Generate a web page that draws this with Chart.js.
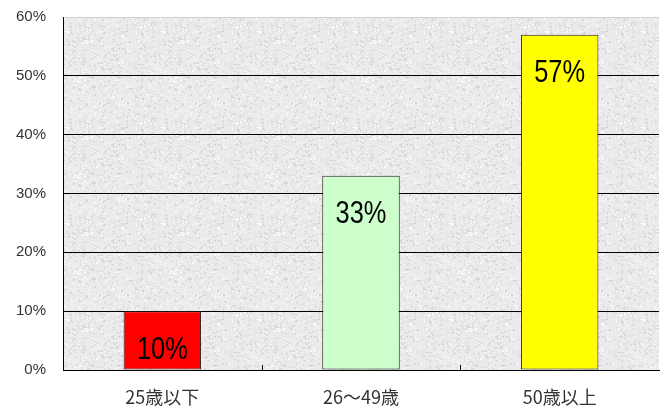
<!DOCTYPE html>
<html>
<head>
<meta charset="utf-8">
<script src="https://cdn.jsdelivr.net/npm/chart.js@4"></script>
<style>
  html, body { margin: 0; padding: 0; background: #fff; }
  #wrap { width: 661px; height: 409px; }
</style>
</head>
<body>
<div id="wrap"><canvas id="myChart" width="661" height="409"></canvas></div>
<script>
// chart data
const categories = ["25歳以下", "26～49歳", "50歳以上"];
const shares = [10, 33, 57];
const barColors = ["#ff0000", "#ccffcc", "#ffff00"];
const yTicks = [0, 10, 20, 30, 40, 50, 60];

// granite-like texture for the plot area (seeded, fixed)
const makeTexture = () => {
  let c = document.createElement("canvas");
  c.width = 96; c.height = 96;
  let g = c.getContext("2d");
  g.fillStyle = "#ebebeb";
  g.fillRect(0, 0, 96, 96);
  let seed = 7;
  const rnd = () => { seed = (seed * 16807) % 2147483647; return seed / 2147483647; };
  for (let i = 0; i < 1800; i++) {
    let v = Math.floor(205 + rnd() * 50);
    g.fillStyle = `rgba(${v},${v},${v},0.8)`;
    g.fillRect(Math.floor(rnd() * 96), Math.floor(rnd() * 96), 1 + Math.floor(rnd() * 2), 1 + Math.floor(rnd() * 2));
  }
  return c;
};

const plotBg = {
  id: "plotBg",
  beforeDraw(chart) {
    let { ctx, chartArea: a } = chart;
    ctx.save();
    ctx.fillStyle = ctx.createPattern(makeTexture(), "repeat");
    ctx.fillRect(a.left, a.top, a.right - a.left, a.bottom - a.top);
    ctx.restore();
  },
};

// small inward ticks at category boundaries on the bottom axis
const catTicks = {
  id: "catTicks",
  afterDatasetsDraw(chart) {
    let { ctx, scales: { x, y } } = chart;
    let half = (x.getPixelForValue(1) - x.getPixelForValue(0)) / 2;
    let base = y.getPixelForValue(0);
    ctx.save();
    ctx.strokeStyle = "#000";
    ctx.lineWidth = 1;
    for (let i = 0; i < categories.length - 1; i++) {
      let px = Math.round(x.getPixelForValue(i) + half) + 0.5;
      ctx.beginPath();
      ctx.moveTo(px, base);
      ctx.lineTo(px, base - 5);
      ctx.stroke();
    }
    ctx.restore();
  },
};

// value labels inside the bars, narrow font look
const barLabels = {
  id: "barLabels",
  afterDatasetsDraw(chart) {
    let { ctx } = chart;
    let meta = chart.getDatasetMeta(0);
    ctx.save();
    ctx.fillStyle = "#000";
    ctx.font = "31px 'Liberation Sans', Arial, sans-serif";
    ctx.textAlign = "center";
    ctx.textBaseline = "middle";
    meta.data.forEach((bar, i) => {
      ctx.save();
      ctx.translate(bar.x, bar.y + 39);
      ctx.scale(0.82, 1);
      ctx.fillText(shares[i] + "%", 0, 0);
      ctx.restore();
    });
    ctx.restore();
  },
};

var ctx = document.getElementById("myChart");
var myChart = new Chart(ctx, {
  type: "bar",
  data: {
    labels: categories,
    datasets: [
      {
        data: shares,
        backgroundColor: barColors,
        borderColor: "#222222",
        borderWidth: 1,
        borderSkipped: false,
        categoryPercentage: 1,
        barPercentage: 0.39,
      },
    ],
  },
  options: {
    responsive: false,
    animation: false,
    layout: { padding: { top: 17, right: 2, left: 0, bottom: 0 } },
    plugins: { legend: { display: false }, tooltip: { enabled: false } },
    scales: {
      x: {
        offset: true,
        grid: { display: false },
        border: { color: "#000", width: 1 },
        ticks: {
          color: "#333",
          padding: 8,
          font: { size: 18, family: "'Noto Sans CJK JP', sans-serif" },
        },
        afterFit(scale) { scale.height = 39; },
      },
      y: {
        min: 0,
        max: 60,
        afterBuildTicks(scale) { scale.ticks = yTicks.map((v) => ({ value: v })); },
        grid: {
          color: (c) => (c.tick && c.tick.value === 60 ? "#d0d0d0" : "#000"),
          lineWidth: 1,
          drawTicks: false,
        },
        border: { color: "#000", width: 1 },
        ticks: {
          color: "#333",
          padding: 17,
          font: { size: 15, family: "'Liberation Sans', Arial, sans-serif" },
          callback: (v) => v + "%",
        },
        afterFit(scale) {
          scale.width = 63;
          scale.paddingTop = 0;
          scale.paddingBottom = 0;
        },
      },
    },
  },
  plugins: [plotBg, catTicks, barLabels],
});
</script>
</body>
</html>
